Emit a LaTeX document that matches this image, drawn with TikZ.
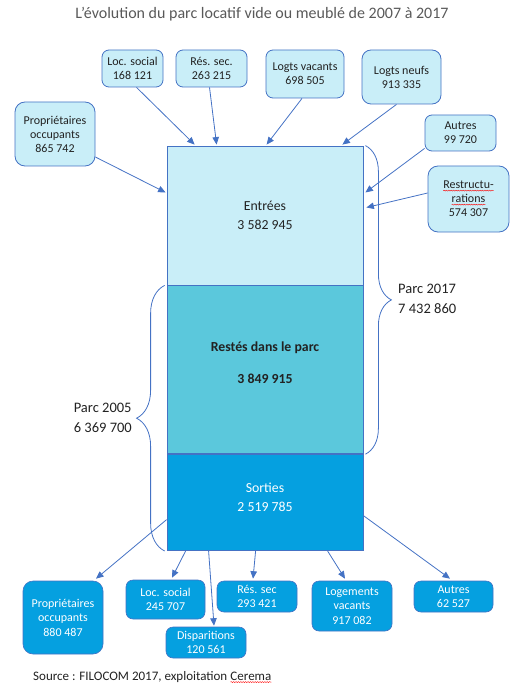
\documentclass[tikz,border=0pt]{standalone}
\usepackage{fontspec}
\setmainfont{Carlito}
\usetikzlibrary{positioning, arrows.meta, decorations.pathreplacing, decorations.pathmorphing}

\definecolor{edgeblue}{HTML}{4472C4}
\definecolor{paleblue}{HTML}{C9EEF8}
\definecolor{midcyan}{HTML}{5BC8DC}
\definecolor{deepcyan}{HTML}{05A0E0}
\definecolor{titlegray}{HTML}{595959}
\definecolor{inkgray}{HTML}{222222}

% red wavy line of the spell checker under a word
\newcommand{\spellmark}[1]{\tikz[baseline=(w.base)]{\node[rectangle, draw=none, fill=none, inner sep=0pt, outer sep=0pt, minimum width=0pt, minimum height=0pt, text depth=, sharp corners] (w) {#1}; \draw[red, fill=none, line width=0.4pt, sharp corners, decorate, decoration={snake, amplitude=0.5pt, segment length=2.4pt}] ([yshift=-1.8pt]w.base west) -- ([yshift=-1.8pt]w.base east);}}

\begin{document}
\begin{tikzpicture}
    [
        x=1pt, y=1pt, node distance=0pt, >={Triangle[length=7.5pt, width=6.5pt]},
        bar_node/.style={rectangle, draw=edgeblue, line width=0.8pt, minimum width=196pt, inner sep=0pt, align=center, text=inkgray, font=\fontsize{13.8}{19}\selectfont},
        in_box/.style={rectangle, rounded corners=7pt, draw=edgeblue, fill=paleblue, line width=0.8pt, inner sep=0pt, align=center, text=inkgray, font=\fontsize{12}{14}\selectfont},
        out_box/.style={rectangle, rounded corners=7pt, draw=edgeblue, fill=deepcyan, line width=0.6pt, inner sep=0pt, align=center, text=white, font=\fontsize{12}{14.5}\selectfont},
        flow/.style={->, line width=0.8pt, color=edgeblue},
        park_brace/.style={draw=edgeblue, line width=0.8pt, decorate, decoration={brace, amplitude=#1}},
        park_label/.style={align=left, inner sep=0pt, text=inkgray, font=\fontsize{14.5}{20}\selectfont},
    ]
        \useasboundingbox (0,0) rectangle (524,-687) ;

        \node[text=titlegray, font=\fontsize{16}{18}\selectfont] (title) at (262,-14) {L’évolution du parc locatif vide ou meublé de 2007 à 2017} ;

        % the three parts of the bar
        \node[bar_node, fill=paleblue, minimum height=139pt] (entrees) at (265,-215.5) {Entrées\\3 582 945} ;
        \node[bar_node, fill=midcyan, minimum height=168pt, text depth=14pt] (restes) [below = of entrees] {\bfseries Restés dans le parc\\[13pt]\bfseries 3 849 915} ;
        \node[bar_node, fill=deepcyan, text=white, minimum height=96pt, text depth=10pt] (sorties) [below = of restes] {Sorties\\2 519 785} ;

        % entries
        \node[in_box, minimum width=61pt, minimum height=37pt] (in_locsocial) at (132.5,-68.5) {Loc. social\\168 121} ;
        \node[in_box, minimum width=71pt, minimum height=37pt] (in_ressec) at (211.5,-68.5) {Rés. sec.\\263 215} ;
        \node[in_box, minimum width=78pt, minimum height=48pt] (in_vacants) at (305,-74) {Logts vacants\\698 505} ;
        \node[in_box, minimum width=79pt, minimum height=54pt, rounded corners=9pt] (in_neufs) at (401.5,-77) {Logts neufs\\913 335} ;
        \node[in_box, minimum width=80pt, minimum height=64pt, rounded corners=10pt] (in_proprio) at (55,-134) {Propriétaires\\occupants\\865 742} ;
        \node[in_box, minimum width=71pt, minimum height=36pt] (in_autres) at (460.5,-133) {Autres\\99 720} ;
        \node[in_box, minimum width=81pt, minimum height=66pt, rounded corners=10pt] (in_restruct) at (468.5,-199) {\spellmark{Restructu-}\\\spellmark{rations}\\574 307} ;

        % exits
        \node[out_box, minimum width=80pt, minimum height=73pt, rounded corners=10pt] (out_proprio) at (63,-617.5) {Propriétaires\\occupants\\880 487} ;
        \node[out_box, minimum width=79pt, minimum height=39pt] (out_locsocial) at (165.5,-599.5) {Loc. social\\245 707} ;
        \node[out_box, minimum width=80pt, minimum height=31pt] (out_disp) at (206,-642.5) {Disparitions\\120 561} ;
        \node[out_box, minimum width=80pt, minimum height=31pt] (out_ressec) at (257,-596.5) {Rés. sec\\293 421} ;
        \node[out_box, minimum width=80pt, minimum height=50pt] (out_vacants) at (352,-606) {Logements\\vacants\\917 082} ;
        \node[out_box, minimum width=79pt, minimum height=31pt] (out_autres) at (453.5,-596.5) {Autres\\62 527} ;

        \draw[flow] ([xshift=4pt]in_locsocial.south) to ([xshift=28pt, yshift=1pt]entrees.north west) ;
        \draw[flow] ([xshift=-2pt]in_ressec.south) to ([xshift=50pt, yshift=1pt]entrees.north west) ;
        \draw[flow] ([xshift=-3pt]in_vacants.south) to ([xshift=100pt, yshift=1pt]entrees.north west) ;
        \draw[flow] ([xshift=-5pt]in_neufs.south) to ([xshift=-21pt, yshift=1pt]entrees.north east) ;
        \draw[flow] ([yshift=-23pt]in_proprio.east) to ([xshift=-1pt, yshift=23pt]entrees.west) ;
        \draw[flow] ([yshift=3pt]in_autres.south west) to ([xshift=2pt, yshift=23pt]entrees.east) ;
        \draw[flow] ([yshift=6pt]in_restruct.west) to ([xshift=3pt, yshift=8pt]entrees.east) ;

        \draw[flow] ([yshift=-17pt]sorties.west) to ([xshift=33pt, yshift=2pt]out_proprio.north) ;
        \draw[flow] ([xshift=19pt]sorties.south west) to ([xshift=6.5pt, yshift=2pt]out_locsocial.north) ;
        \draw[flow] ([xshift=42pt]sorties.south west) to ([xshift=8pt, yshift=1pt]out_disp.north) ;
        \draw[flow] ([xshift=89pt]sorties.south west) to ([xshift=-4pt, yshift=2pt]out_ressec.north) ;
        \draw[flow] ([xshift=161pt]sorties.south west) to ([xshift=-7pt, yshift=2pt]out_vacants.north) ;
        \draw[flow] ([yshift=-13pt]sorties.east) to ([xshift=-3.5pt, yshift=2pt]out_autres.north) ;

        % the two stocks
        \draw[park_brace=26pt] ([xshift=2pt]entrees.north east) to ([xshift=2pt]restes.south east) ;
        \draw[park_brace=28pt] ([xshift=-2pt]sorties.south west) to ([xshift=-2pt]restes.north west) ;
        \node[park_label, anchor=west] (parc2017) at (398,-299) {Parc 2017\\7 432 860} ;
        \node[park_label, anchor=east] (parc2005) at (132,-418) {Parc 2005\\6 369 700} ;

        \node[anchor=west, inner sep=0pt, text=inkgray, font=\fontsize{13}{15}\selectfont] (source) at (33,-677) {Source : FILOCOM 2017, exploitation \spellmark{Cerema}} ;
    \end{tikzpicture}
\end{document}
